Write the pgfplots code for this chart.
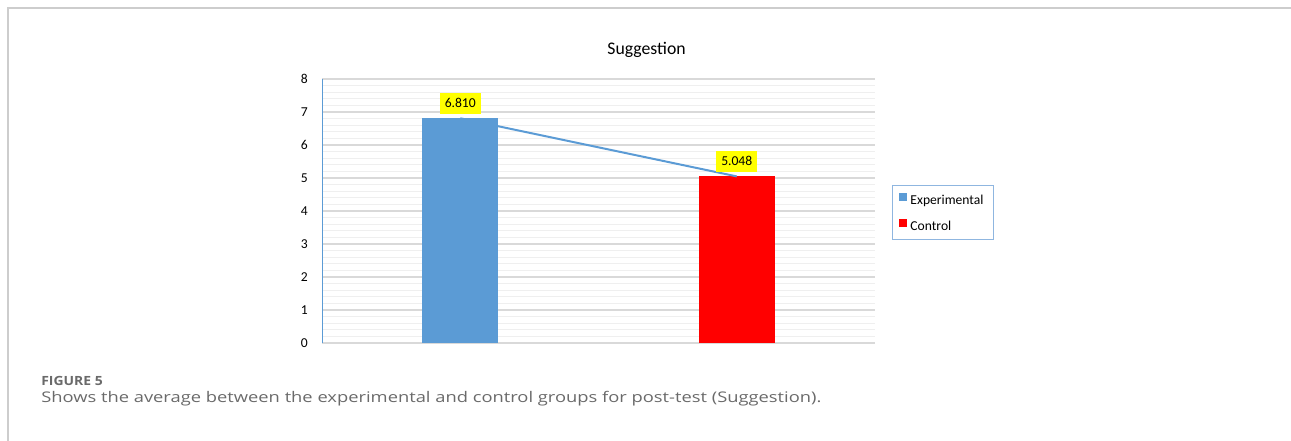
\documentclass[border=0pt]{standalone}
\usepackage{pgfplots}
\pgfplotsset{compat=1.18}
\usepackage{fontspec}
\setmainfont{Carlito}
\newfontfamily\capfont{Open Sans}
\definecolor{xblue}{HTML}{5B9BD5}
\definecolor{xred}{HTML}{FF0000}
\definecolor{xyellow}{HTML}{FFFF00}
\definecolor{framegray}{HTML}{CDCDCD}
\definecolor{majgrid}{HTML}{D9D9D9}
\definecolor{mingrid}{HTML}{EFEFEF}
\definecolor{capgray}{HTML}{6A6A6A}
\definecolor{legblue}{HTML}{8FB6E0}
\pgfplotsset{vallabel/.style={nodes near coords={\pgfmathprintnumber[fixed,fixed zerofill,precision=3,assume math mode=true]{\pgfplotspointmeta}}}}
\begin{document}
\begin{tikzpicture}
\path[use as bounding box] (0pt,0pt) rectangle (968.25pt,330.75pt);
\draw[framegray, line width=1.5pt] (6pt,0pt) -- (6pt,324.75pt) -- (968.25pt,324.75pt);
\begin{axis}[
  at={(241.5pt,73.5pt)}, anchor=south west,
  scale only axis, width=414.75pt, height=198pt,
  xmin=-0.5, xmax=1.5, ymin=0, ymax=8,
  axis x line=none,
  axis y line=left,
  y axis line style={-, draw=xblue, line width=0.75pt},
  xtick=\empty,
  ytick={0,1,...,8},
  minor y tick num=4,
  ymajorgrids, yminorgrids,
  major grid style={majgrid, line width=0.9pt},
  minor grid style={mingrid, line width=0.75pt},
  major tick length=0pt, minor tick length=0pt,
  /pgf/number format/assume math mode=true,
  yticklabel style={font=\fontsize{10.2}{12}\selectfont, inner sep=0pt, xshift=-10.5pt, text=black},
  clip=false,
  legend cell align=left,
  legend style={at={(axis description cs:1.0307,0.5985)}, anchor=north west,
    draw=legblue, line width=0.75pt, fill=white,
    inner xsep=5.25pt, inner ysep=5.4pt, row sep=9.25pt,
    font=\fontsize{10.2}{12}\selectfont,
    nodes={inner sep=0pt},
    /tikz/every odd column/.append style={column sep=2.25pt},
    /tikz/every even column/.append style={text width=57pt, text height=7pt, text depth=2.5pt}},
  every node near coord/.append style={fill=xyellow, inner sep=0pt,
    minimum width=30.75pt, minimum height=15.75pt, anchor=south, yshift=3.2pt,
    font=\fontsize{10.2}{12}\selectfont, text=black},
]
\addplot[ybar, bar width=57pt, bar shift=0pt, fill=xblue, draw=none, vallabel,
  legend image code/.code={\fill[xblue] (0pt,0pt) rectangle (6pt,6pt);}]
  coordinates {(0,6.810)};
\addlegendentry{Experimental}
\addplot[ybar, bar width=57pt, bar shift=0pt, fill=xred, draw=none, vallabel,
  legend image code/.code={\fill[xred] (0pt,0pt) rectangle (6pt,6pt);}]
  coordinates {(1,5.048)};
\addlegendentry{Control}
\addplot[sharp plot, xblue, line width=1.5pt, mark=none, forget plot]
  coordinates {(0,6.810) (1,5.048)};
\end{axis}
\node[anchor=base, inner sep=0pt, font=\fontsize{13.3}{16}\selectfont] at (484.9pt,289.5pt) {Suggestion};
\node[anchor=base west, inner sep=0pt, font=\capfont\bfseries\fontsize{9.5}{11}\selectfont, text=capgray] at (30.75pt,41.25pt) {\scalebox{1.1}[1]{FIGURE 5}};
\node[anchor=base west, inner sep=0pt, font=\capfont\fontsize{11}{13}\selectfont, text=capgray] at (30.75pt,28.5pt) {\scalebox{1.25}[1]{Shows the average between the experimental and control groups for post-test (Suggestion).}};
\end{tikzpicture}
\end{document}
